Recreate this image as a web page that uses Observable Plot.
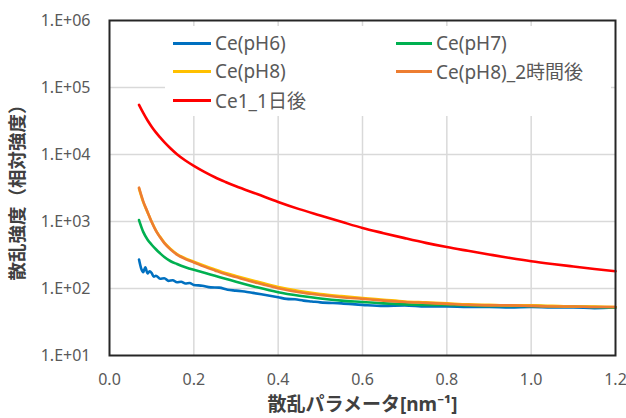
<!DOCTYPE html>
<html>
<head>
<meta charset="utf-8">
<script src="https://cdn.jsdelivr.net/npm/d3@7"></script>
<script src="https://cdn.jsdelivr.net/npm/@observablehq/plot@0.6"></script>
<style>
  html, body { margin: 0; padding: 0; background: #fff; }
  #wrap { position: relative; width: 626px; height: 418px; font-family: "Noto Sans", "Noto Sans CJK JP", sans-serif; }
  #legend { position: absolute; left: 165px; top: 26px; width: 446px; height: 90px; background: #fff; }
  .entry { position: absolute; display: flex; align-items: center; height: 26px; color: #595959; font-size: 19px; white-space: nowrap; }
  .sw { display: inline-block; height: 3px; margin-right: 4px; }
</style>
</head>
<body>
<div id="wrap"></div>
<script>
// ---- data ----
const seriesNames = ["Ce(pH6)", "Ce(pH7)", "Ce(pH8)", "Ce(pH8)_2時間後", "Ce1_1日後"];
const seriesColors = ["#0070C0", "#00B050", "#FFC000", "#ED7D31", "#FF0000"];

const qCommon = [0.07, 0.08, 0.09, 0.10, 0.11, 0.12, 0.13, 0.145, 0.16, 0.18, 0.20, 0.225, 0.25, 0.275, 0.30, 0.35, 0.40, 0.45, 0.50, 0.55, 0.60, 0.65, 0.70, 0.75, 0.80, 0.85, 0.90, 0.95, 1.00, 1.05, 1.10, 1.15, 1.20];

const ce1Day = [55000, 41700, 32400, 26000, 21400, 18000, 15300, 12300, 10100, 8130, 6760, 5500, 4570, 3890, 3350, 2570, 1960, 1530, 1230, 990, 800, 670, 565, 480, 415, 365, 322, 285, 255, 232, 213, 196, 181];
const cePH8_2h = [3200, 2000, 1400, 980, 730, 580, 475, 380, 320, 275, 245, 212, 186, 164, 148, 121, 101, 88, 80, 74, 70, 66, 63, 61, 59, 57, 56, 56, 55, 54, 54, 53, 53];
const cePH8 = [3100, 1950, 1380, 990, 740, 590, 485, 390, 327, 281, 251, 219, 192, 170, 154, 127, 105, 92, 83, 77, 72, 68, 64, 62, 60, 58, 57, 56, 56, 55, 54, 54, 53];
const cePH7 = [1050, 700, 540, 450, 385, 335, 295, 255, 232, 208, 190, 172, 155, 140, 126, 104, 88, 78, 71, 66, 63, 60, 58, 57, 57, 56, 55, 55, 55, 54, 54, 53, 52];

const qBlue = [0.07, 0.075, 0.08, 0.085, 0.09, 0.095, 0.10, 0.105, 0.11, 0.12, 0.13, 0.14, 0.15, 0.16, 0.17, 0.18, 0.19, 0.20, 0.22, 0.24, 0.26, 0.28, 0.30, 0.32, 0.34, 0.36, 0.38, 0.40, 0.42, 0.44, 0.46, 0.48, 0.50, 0.55, 0.60, 0.65, 0.70, 0.75, 0.80, 0.85, 0.90, 0.95, 1.00, 1.05, 1.10, 1.15, 1.20];
const cePH6 = [270, 200, 175, 208, 168, 180, 170, 150, 155, 140, 142, 130, 133, 124, 126, 119, 121, 113, 110, 104, 103, 96, 93, 90, 86, 82, 78, 74, 70, 69, 66, 64, 62, 60, 57, 55, 56, 54, 54, 53, 53, 52, 53, 52, 52, 51, 52];

const xTicks = [0, 0.2, 0.4, 0.6, 0.8, 1.0, 1.2];
const yTicks = [10, 100, 1000, 10000, 100000, 1000000];
const xTitle = "散乱パラメータ[nm⁻¹]";
const yTitle = "散乱強度（相対強度）";

// ---- build rows ----
const rows = [];
const addSeries = (name, qs, vals) => qs.forEach((q, i) => rows.push({series: name, q, v: vals[i]}));
addSeries(seriesNames[0], qBlue, cePH6);
addSeries(seriesNames[1], qCommon, cePH7);
addSeries(seriesNames[2], qCommon, cePH8);
addSeries(seriesNames[3], qCommon, cePH8_2h);
addSeries(seriesNames[4], qCommon, ce1Day);

const font = '"Noto Sans", "Noto Sans CJK JP", sans-serif';

const chart = Plot.plot({
  width: 626,
  height: 418,
  marginLeft: 109,
  marginRight: 11,
  marginTop: 20,
  marginBottom: 63,
  style: {fontFamily: font, background: "#fff"},
  x: {domain: [0, 1.2]},
  y: {type: "log", domain: [10, 1e6]},
  color: {domain: seriesNames, range: seriesColors},
  marks: [
    Plot.gridX(xTicks.slice(1, -1), {stroke: "#d9d9d9", strokeOpacity: 1, strokeWidth: 1.5}),
    Plot.gridY(yTicks.slice(1, -1), {stroke: "#d9d9d9", strokeOpacity: 1, strokeWidth: 1.5}),
    Plot.line(rows, {x: "q", y: "v", z: "series", stroke: "series", strokeWidth: 2.6, curve: "monotone-x"}),
    Plot.frame({stroke: "#262626", strokeWidth: 2}),
    Plot.axisX(xTicks, {tickSize: 0, tickPadding: 18, fontSize: 16, fill: "#595959", label: null, tickFormat: d => d.toFixed(1)}),
    Plot.axisY(yTicks, {tickSize: 0, tickPadding: 19, fontSize: 16, fill: "#595959", label: null,
      tickFormat: d => "1.E+" + String(Math.round(Math.log10(d))).padStart(2, "0")}),
    Plot.text([xTitle], {frameAnchor: "bottom", dy: 49, text: d => d, fontSize: 19, fontWeight: "bold", fill: "#404040", lineAnchor: "middle", textAnchor: "middle"}),
    Plot.text([yTitle], {frameAnchor: "left", dx: -91, rotate: -90, text: d => d, fontSize: 18.5, fontWeight: "bold", fill: "#404040", lineAnchor: "middle", textAnchor: "middle"})
  ]
});

const wrap = document.getElementById("wrap");
wrap.appendChild(chart);

// ---- legend (inside plot area) ----
const legend = document.createElement("div");
legend.id = "legend";
const colLeft = [8, 231];
const swW = [38, 36];
const rowTop = [4, 32, 61];
seriesNames.forEach((name, i) => {
  const col = i % 2, row = Math.floor(i / 2);
  const e = document.createElement("div");
  e.className = "entry";
  e.style.left = colLeft[col] + "px";
  e.style.top = rowTop[row] + "px";
  const sw = document.createElement("span");
  sw.className = "sw";
  sw.style.width = swW[col] + "px";
  sw.style.background = seriesColors[i];
  const t = document.createElement("span");
  t.textContent = name;
  e.appendChild(sw);
  e.appendChild(t);
  legend.appendChild(e);
});
wrap.appendChild(legend);
</script>
</body>
</html>
